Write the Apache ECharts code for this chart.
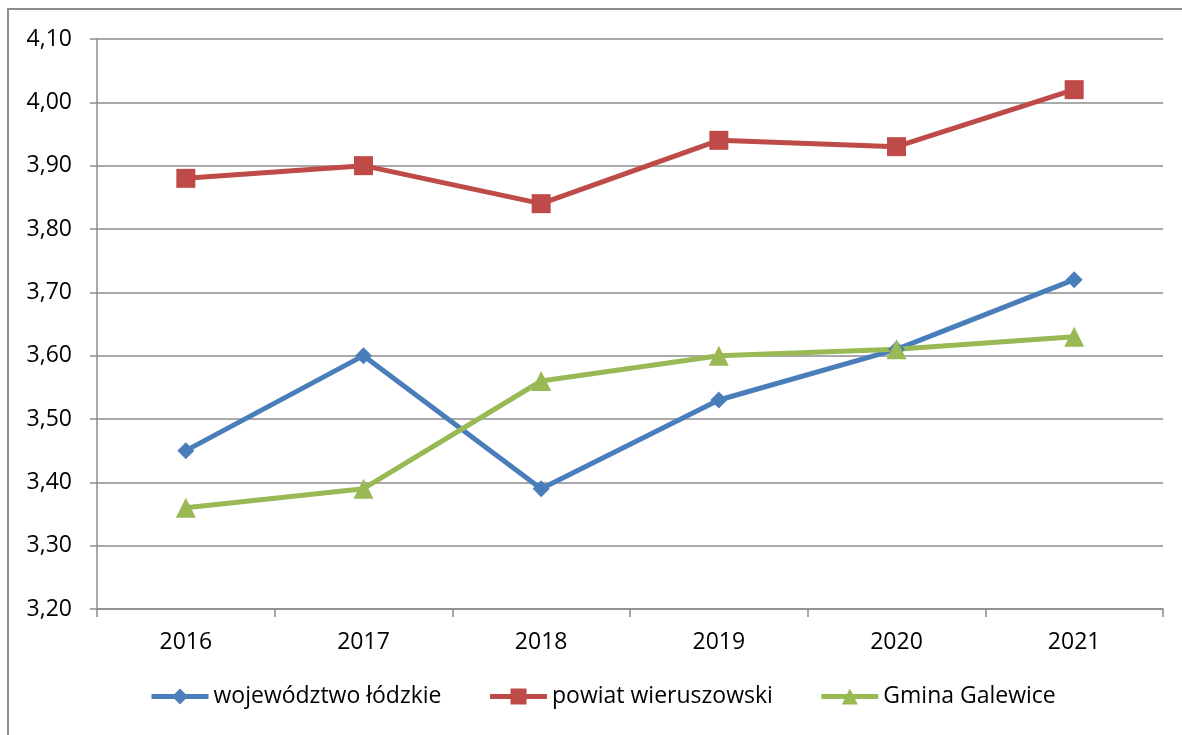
<!DOCTYPE html>
<html>
<head>
<meta charset="utf-8">
<script src="https://cdn.jsdelivr.net/npm/echarts@6/dist/echarts.min.js"></script>
<style>
    html, body { margin: 0; padding: 0; background: #fff; }
    #chart { width: 1182px; height: 735px; }
</style>
</head>
<body>
<div id="chart"></div>
<script>
    let years = ['2016', '2017', '2018', '2019', '2020', '2021'];
    let wojewodztwo = [3.45, 3.60, 3.39, 3.53, 3.61, 3.72];
    let powiat = [3.88, 3.90, 3.84, 3.94, 3.93, 4.02];
    let gmina = [3.36, 3.39, 3.56, 3.60, 3.61, 3.63];

    let myChart = echarts.init(document.getElementById('chart'));
    let font = 'Open Sans';
    let gray = '#8c8c8c';

    function line(name, data, color, symbol, size) {
        return {
            name: name,
            type: 'line',
            data: data,
            symbol: symbol,
            symbolSize: size,
            lineStyle: { color: color, width: 5 },
            itemStyle: { color: color },
            animation: false
        };
    }

    myChart.setOption({
        backgroundColor: '#fff',
        textStyle: { fontFamily: font },
        graphic: [{
            type: 'rect',
            shape: { x: 8, y: 9, width: 1300, height: 900 },
            style: { fill: 'none', stroke: gray, lineWidth: 2 }
        }],
        grid: { left: 97, right: 19, top: 39, bottom: 126 },
        legend: {
            bottom: 22,
            left: 144,
            itemWidth: 57,
            itemHeight: 20,
            itemGap: 46,
            lineStyle: { width: 5 },
            textStyle: { fontSize: 23, color: '#000', fontFamily: font },
            data: ['województwo łódzkie', 'powiat wieruszowski', 'Gmina Galewice']
        },
        xAxis: {
            type: 'category',
            data: years,
            boundaryGap: true,
            axisLine: { lineStyle: { color: gray, width: 1.5 } },
            axisTick: { show: true, length: 8, lineStyle: { color: gray, width: 1.5 } },
            axisLabel: { color: '#000', fontSize: 23, margin: 22, fontFamily: font }
        },
        yAxis: {
            type: 'value',
            min: 3.2,
            max: 4.1,
            interval: 0.1,
            axisLine: { show: true, lineStyle: { color: gray, width: 1.5 } },
            axisTick: { show: true, length: 7, lineStyle: { color: gray, width: 1.5 } },
            splitLine: { lineStyle: { color: gray, width: 1.5 } },
            axisLabel: {
                color: '#000', fontSize: 23, margin: 25, fontFamily: font,
                formatter: function (v) { return v.toFixed(2).replace('.', ','); }
            }
        },
        series: [
            line('województwo łódzkie', wojewodztwo, '#4a7ebb', 'diamond', 17),
            line('powiat wieruszowski', powiat, '#be4b48', 'rect', 19),
            line('Gmina Galewice', gmina, '#98b954', 'triangle', 20)
        ]
    });
</script>
</body>
</html>
